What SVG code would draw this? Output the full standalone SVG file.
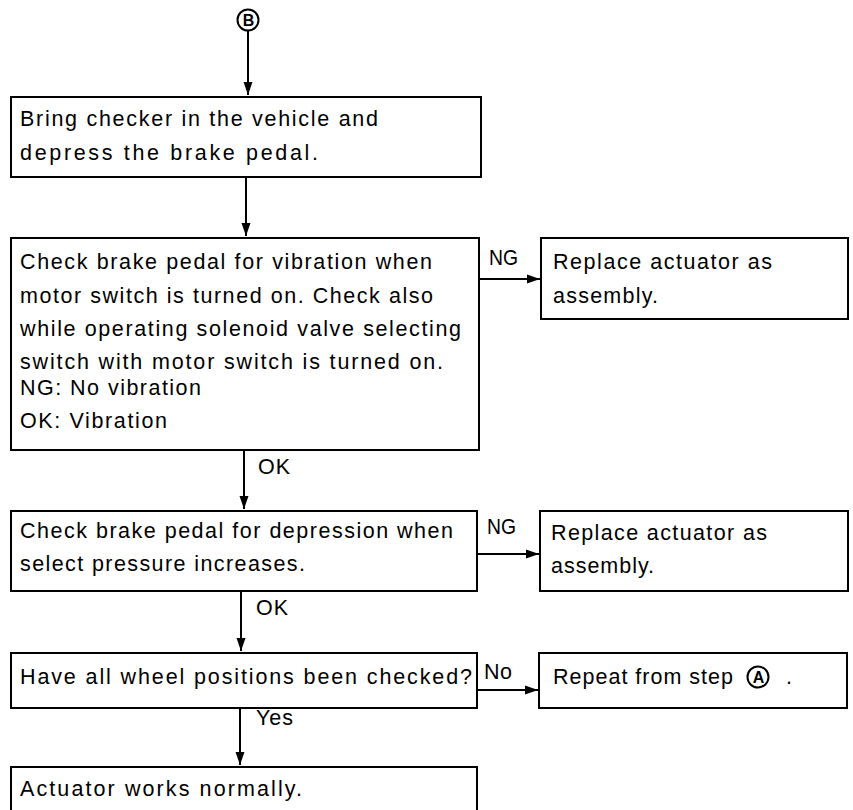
<svg xmlns="http://www.w3.org/2000/svg" width="853" height="810" viewBox="0 0 853 810">
<defs>
<marker id="ah" viewBox="0 0 13 10" refX="13" refY="5" markerWidth="13" markerHeight="10" markerUnits="userSpaceOnUse" orient="auto">
<path d="M0,0.5 L13,5 L0,9.5 Z" fill="#000"/>
</marker>
</defs>
<style>
.box{fill:#fff;stroke:#000;stroke-width:2}
.t{font-family:"Liberation Sans",Arial,sans-serif;font-size:21.5px;fill:#000}
.c{stroke:#000;stroke-width:2;fill:none;marker-end:url(#ah)}
.cl{stroke:#000;stroke-width:2;fill:#fff}
.cb{font-family:"Liberation Sans",Arial,sans-serif;font-size:16px;font-weight:bold;fill:#000;text-anchor:middle}
</style>
<rect width="853" height="810" fill="#fff"/>
<g id="connectors">
<path class="c" d="M248,31 L248,95"/>
<path class="c" d="M246,177 L246,236"/>
<path class="c" d="M479,279 L540,279"/>
<path class="c" d="M244,450 L244,509"/>
<path class="c" d="M477,554 L539,554"/>
<path class="c" d="M241,591 L241,651"/>
<path class="c" d="M477,690 L538,690"/>
<path class="c" d="M240,708 L240,765"/>
<text class="t" x="489" y="265" textLength="29" lengthAdjust="spacingAndGlyphs">NG</text>
<text class="t" x="258" y="474" textLength="32" lengthAdjust="spacing">OK</text>
<text class="t" x="487" y="534" textLength="29" lengthAdjust="spacingAndGlyphs">NG</text>
<text class="t" x="256" y="615" textLength="32" lengthAdjust="spacing">OK</text>
<text class="t" x="484" y="679" textLength="28" lengthAdjust="spacing">No</text>
<text class="t" x="256" y="725" textLength="37" lengthAdjust="spacing">Yes</text>
</g>
<g id="start">
<circle class="cl" cx="248" cy="20" r="10.5"/>
<text class="cb" x="248.5" y="26">B</text>
</g>
<g id="n1">
<rect class="box" x="11" y="97" width="470" height="80"/>
<text class="t" x="20" y="126" textLength="358" lengthAdjust="spacing">Bring checker in the vehicle and</text>
<text class="t" x="20" y="160" textLength="298" lengthAdjust="spacing">depress the brake pedal.</text>
</g>
<g id="n2">
<rect class="box" x="11" y="238" width="468" height="212"/>
<text class="t" x="20" y="269" textLength="412" lengthAdjust="spacing">Check brake pedal for vibration when</text>
<text class="t" x="20" y="303" textLength="413" lengthAdjust="spacing">motor switch is turned on. Check also</text>
<text class="t" x="20" y="336" textLength="441" lengthAdjust="spacing">while operating solenoid valve selecting</text>
<text class="t" x="20" y="369" textLength="423" lengthAdjust="spacing">switch with motor switch is turned on.</text>
<text class="t" x="20" y="395" textLength="181" lengthAdjust="spacing">NG: No vibration</text>
<text class="t" x="20" y="428" textLength="147" lengthAdjust="spacing">OK: Vibration</text>
</g>
<g id="n3">
<rect class="box" x="541" y="238" width="307" height="81"/>
<text class="t" x="553" y="269" textLength="219" lengthAdjust="spacing">Replace actuator as</text>
<text class="t" x="553" y="303" textLength="105" lengthAdjust="spacing">assembly.</text>
</g>
<g id="n4">
<rect class="box" x="11" y="511" width="466" height="80"/>
<text class="t" x="20" y="538" textLength="433" lengthAdjust="spacing">Check brake pedal for depression when</text>
<text class="t" x="20" y="571" textLength="285" lengthAdjust="spacing">select pressure increases.</text>
</g>
<g id="n5">
<rect class="box" x="540" y="511" width="308" height="80"/>
<text class="t" x="551" y="540" textLength="216" lengthAdjust="spacing">Replace actuator as</text>
<text class="t" x="551" y="573" textLength="103" lengthAdjust="spacing">assembly.</text>
</g>
<g id="n6">
<rect class="box" x="11" y="653" width="466" height="55"/>
<text class="t" x="20" y="684" textLength="452" lengthAdjust="spacing">Have all wheel positions been checked?</text>
</g>
<g id="n7">
<rect class="box" x="539" y="653" width="308" height="55"/>
<text class="t" x="553" y="684" textLength="180" lengthAdjust="spacing">Repeat from step</text>
<circle cx="758" cy="677" r="10.5" fill="#fff" stroke="#000" stroke-width="2"/>
<text class="cb" x="758.5" y="683">A</text>
<text class="t" x="786" y="684">.</text>
</g>
<g id="n8">
<rect class="box" x="11" y="767" width="466" height="60"/>
<text class="t" x="20" y="796" textLength="282" lengthAdjust="spacing">Actuator works normally.</text>
</g>
</svg>
